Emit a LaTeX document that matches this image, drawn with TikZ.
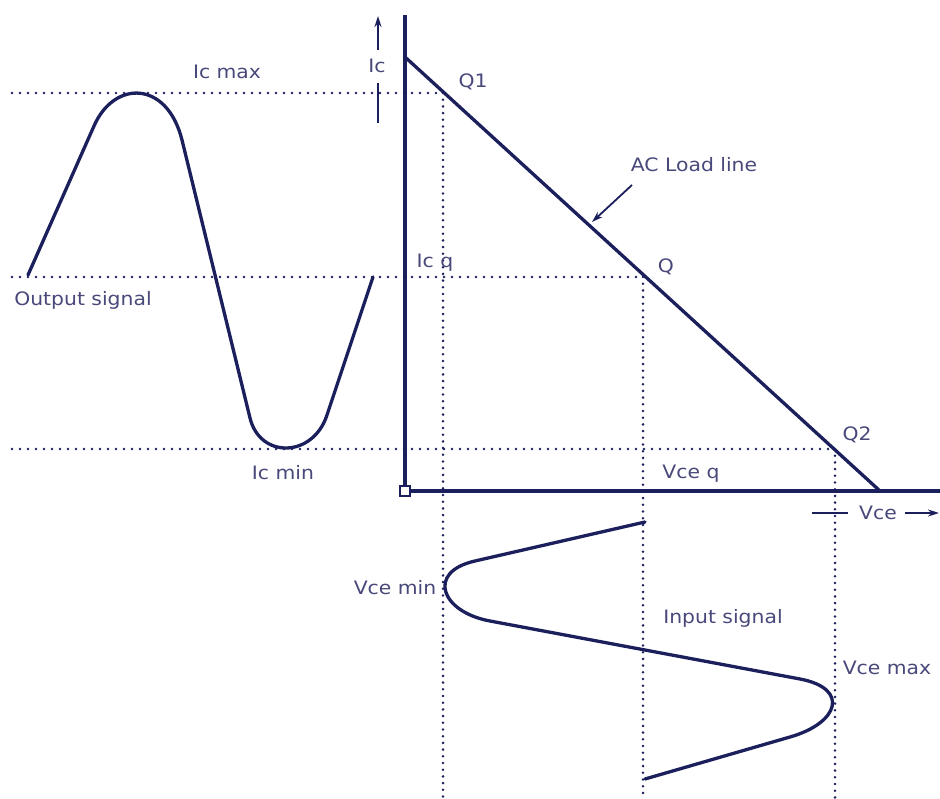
\documentclass[tikz,border=0pt]{standalone}
\usepackage{fontspec}
\setmainfont{DejaVu Sans}[FakeStretch=1.1]
\usetikzlibrary{arrows.meta}
\definecolor{navy}{RGB}{27,31,92}
\definecolor{txt}{RGB}{72,72,122}
\begin{document}
\begin{tikzpicture}[x=1pt,y=-1pt,
  thick line/.style={navy,line width=3.3pt,line join=round},
  signal/.style={navy,line width=3.3pt,line cap=round,line join=round},
  hdots/.style={navy,line width=2.8pt,line cap=round,dash pattern=on 0pt off 8pt},
  vdots/.style={navy,line width=2.8pt,line cap=round,dash pattern=on 0pt off 6.7pt},
  thin arrow/.style={navy,line width=1.8pt,-{Stealth[length=11pt,width=7pt]}},
  thin line/.style={navy,line width=1.8pt},
  lbl/.style={txt,font=\fontsize{18.5}{20}\selectfont,inner sep=0pt,anchor=center}]
\useasboundingbox (0,0) rectangle (940,799);
% axes
\coordinate (ytop) at (405,15);
\coordinate (orig) at (405,491);
\coordinate (xend) at (940,491);
\coordinate (lltop) at (405,57);
\coordinate (llbot) at (880,491);
\coordinate (Q1) at (443,93);
\coordinate (Q) at (643,275);
\coordinate (Q2) at (835,449);
% dotted guide lines
\coordinate (h1) at (12,93);
\coordinate (h2) at (12,277);
\coordinate (h3) at (12,449);
\coordinate (v1) at (443,799);
\coordinate (v2) at (643,799);
\coordinate (v3) at (835,799);
\draw[hdots] (h1) -- (Q1);
\draw[hdots] (h2) -- (643,277);
\draw[hdots] (h3) -- (Q2);
\draw[vdots] (Q1) -- (v1);
\draw[vdots] (643,277) -- (v2);
\draw[vdots] (Q2) -- (v3);
% axes and load line
\draw[thick line] (ytop) -- (orig) -- (xend);
\draw[thick line] (lltop) -- (llbot);
\node[draw=navy,line width=2.8pt,fill=white,minimum size=10pt,inner sep=0pt] (sq) at (orig) {};
% Ic arrow
\coordinate (ica) at (378,50);
\coordinate (icb) at (378,16);
\coordinate (icc) at (378,83);
\coordinate (icd) at (378,123);
\draw[thin arrow] (ica) -- (icb);
\draw[thin line] (icc) -- (icd);
% Vce arrow
\coordinate (va) at (812,513);
\coordinate (vb) at (848,513);
\coordinate (vc) at (905,513);
\coordinate (vd) at (939,513);
\draw[thin line] (va) -- (vb);
\draw[thin arrow] (vc) -- (vd);
% AC load line arrow
\coordinate (aca) at (632,185);
\coordinate (acb) at (592,222);
\draw[thin arrow] (aca) -- (acb);
% output signal
\draw[signal] (28,275) -- (94,126)
  .. controls (114,80) and (167,80) .. (182,140)
  -- (250,418)
  .. controls (260,459) and (313,458) .. (327,415)
  -- (373,277);
% input signal
\draw[signal] (645,522) -- (475,561)
  .. controls (426,572) and (441,612) .. (490,621)
  -- (800,679)
  .. controls (850,688.5) and (839,723) .. (790,737)
  -- (645,779);
% labels
\node[lbl] (lIcmax) at (227,72) {Ic max};
\node[lbl] (lIc) at (377,66) {Ic};
\node[lbl] (lQ1) at (473,82) {Q1};
\node[lbl] (lAC) at (694,165) {AC Load line};
\node[lbl] (lIcq) at (435,263) {Ic q};
\node[lbl] (lQ) at (666,267) {Q};
\node[lbl] (lOut) at (83,300) {Output signal};
\node[lbl] (lIcmin) at (283,473) {Ic min};
\node[lbl] (lVceq) at (691,474) {Vce q};
\node[lbl] (lQ2) at (857,435) {Q2};
\node[lbl] (lVce) at (878,513) {Vce};
\node[lbl] (lVcemin) at (395,588) {Vce min};
\node[lbl] (lIn) at (723,618) {Input signal};
\node[lbl] (lVcemax) at (887,668) {Vce max};
\end{tikzpicture}
\end{document}
